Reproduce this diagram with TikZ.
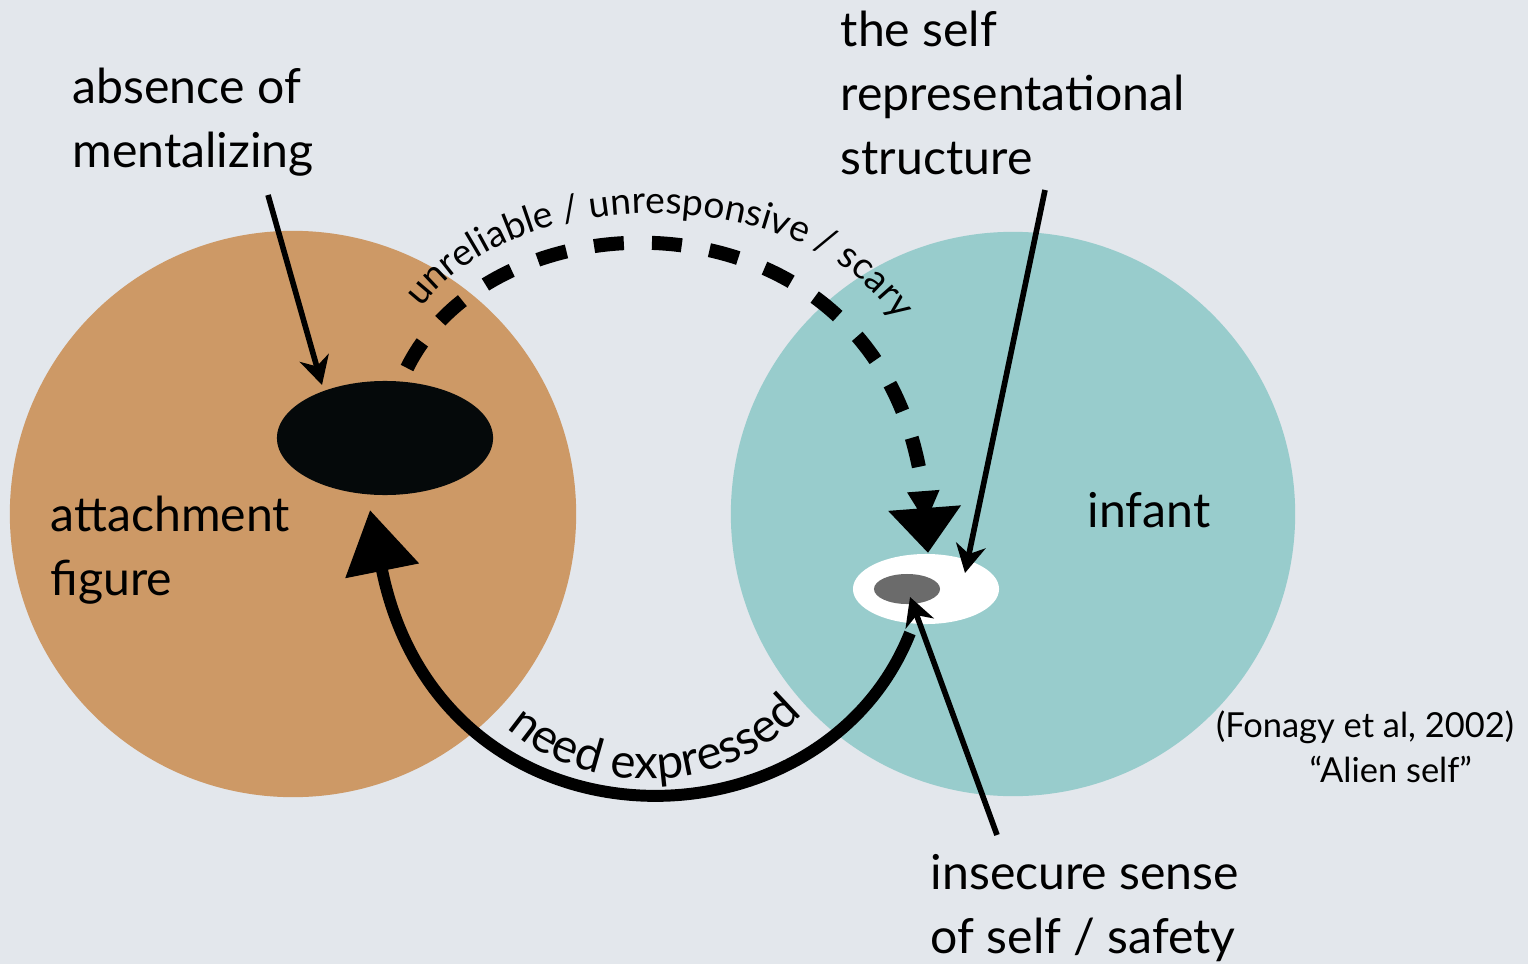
\documentclass[tikz,border=0pt]{standalone}
\usepackage{fontspec}
\setmainfont{Lato}
\usetikzlibrary{arrows.meta,decorations.text,shapes.geometric,calc}
\definecolor{bgc}{RGB}{227,231,236}
\definecolor{warm}{RGB}{205,153,102}
\definecolor{cool}{RGB}{152,204,204}
\definecolor{ink}{RGB}{5,9,10}
\definecolor{core}{RGB}{107,107,107}
\begin{document}
\begin{tikzpicture}[x=0.01cm,y=-0.01cm,
  label/.style={font=\fontsize{13.7}{18.2}\selectfont, inner sep=0pt, align=left, anchor=base west},
  small/.style={font=\fontsize{9.8}{12.6}\selectfont, inner sep=0pt, align=center},
  blob/.style={ellipse, inner sep=0pt},
  pointer/.style={line width=1.6pt, -{Stealth[length=8pt,width=8.5pt,inset=2.5pt]}},
  threat/.style={line width=4pt, dash pattern=on 8.5pt off 8pt,
     -{Triangle[width=0.3cm,length=0.32cm,sep=-0.15cm]Triangle[width=0.7cm,length=0.45cm]}},
  plea/.style={line width=3.4pt, -{Triangle[width=0.72cm,length=0.62cm]}},
]
% canvas
\fill[bgc] (0,0) rectangle (1528,964);
\useasboundingbox (0,0) rectangle (1528,964);

% the two people
\node[circle, fill=warm, minimum size=5.66cm, inner sep=0pt] (carer) at (293,514) {};
\node[circle, fill=cool, minimum size=5.64cm, inner sep=0pt] (baby) at (1013,514) {};

% inner structures
\node[blob, fill=ink, minimum width=2.16cm, minimum height=1.14cm] (gap) at (385,438) {};
\node[blob, fill=white, minimum width=1.46cm, minimum height=0.70cm] (selfrep) at (926,589) {};
\node[blob, fill=core, minimum width=0.66cm, minimum height=0.30cm] (selfcore) at (907,589) {};

% labels (anchored at the baseline of their last line)
\node[label] (absent) at (72,168) {absence of\\mentalizing};
\node[label] (struct) at (840,175) {the self\\representational\\structure};
\node[label] (carerlbl) at (50,595) {attachment\\figure};
\node[label] (babylbl) at (1087,527) {infant};
\node[label] (insecure) at (930,953) {insecure sense\\of self / safety};
\node[small, anchor=base] (cite) at (1365,782) {(Fonagy et al, 2002)\\\hspace*{1.5em}“Alien self”};

% pointers
\coordinate (absentfoot) at (268,195);
\coordinate (structfoot) at (1045,190);
\coordinate (insecurefoot) at (997,835);
\draw[pointer] (absentfoot) -- ($(gap)+(-63,-53)$);
\draw[pointer] (structfoot) -- ($(selfrep)+(39,-16)$);
\draw[pointer] (insecurefoot) -- ($(selfcore)+(3,8)$);

% caregiver response
\draw[threat] ($(gap)+(22,-70)$) .. controls (500,180) and (900,185) .. ($(selfrep)+(2,-36)$);
\path[decorate, decoration={text along path, text align=center,
   text={|\fontsize{10.6}{12}\selectfont|unreliable / unresponsive / scary}}]
   (412,322) .. controls (500,175) and (820,175) .. (905,335);

% infant's signal
\draw[plea] ($(selfrep)+(-16,44)$) .. controls (820,860) and (440,860) .. ($(gap)+(-15,72)$);
\path[decorate, decoration={text along path, text align=center,
   text={|\fontsize{13.5}{15}\selectfont|need expressed}}]
   (500,722) .. controls (580,800) and (730,800) .. (808,708);
\end{tikzpicture}
\end{document}
